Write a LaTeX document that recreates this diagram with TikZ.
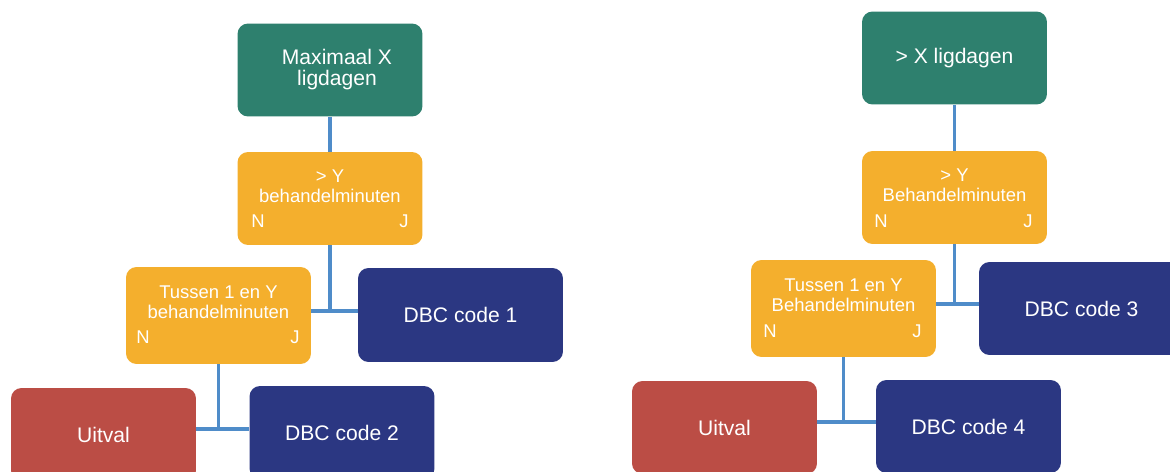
\documentclass[tikz,border=0pt]{standalone}
\usepackage{fontspec}
\setmainfont{Liberation Sans}
\usetikzlibrary{positioning}
\definecolor{DayGreen}{RGB}{46,128,110}
\definecolor{MinuteGold}{RGB}{244,175,45}
\definecolor{CodeNavy}{RGB}{43,55,130}
\definecolor{DropRed}{RGB}{187,77,69}
\definecolor{LinkBlue}{RGB}{79,140,201}

\begin{document}
\begin{tikzpicture}[x=0.02cm, y=-0.02cm,
    box/.style={rounded corners=6pt, minimum width=3.7cm, minimum height=1.86cm,
        inner sep=0pt, text=white, align=center, font=\fontsize{12}{12}\selectfont},
    daybox/.style={box, fill=DayGreen},
    minbox/.style={box, fill=MinuteGold},
    codebox/.style={box, fill=CodeNavy},
    dropbox/.style={box, fill=DropRed},
    mintext/.style={text=white, align=center, inner sep=0pt, font=\fontsize{10.5}{11.3}\selectfont},
    yesno/.style={text=white, inner sep=0pt, font=\fontsize{10.5}{12}\selectfont},
    conn/.style={LinkBlue, line width=1.9pt}]
    \useasboundingbox (0,0) rectangle (1170,472);
    \clip (0,0) rectangle (1170,472);

    % Maximaal X ligdagen
    \begin{scope}
        \node[daybox] (dayA) at (330,70) {};
        \node[text=white, align=center, inner sep=0pt, font=\fontsize{12}{12}\selectfont]
            (dayAt) at (337,70) {Maximaal X\\ligdagen};
        \node[minbox] (minA) at (330,198.5) {};
        \node[mintext] (minAt) at (330,186) {> Y\\behandelminuten};
        \node[yesno] (minAn) at (258,221) {N};
        \node[yesno] (minAj) at (404,221) {J};
        \node[minbox, minimum height=1.94cm] (betA) at (218.5,315.5) {};
        \node[mintext] (betAt) at (218.5,302) {Tussen 1 en Y\\behandelminuten};
        \node[yesno] (betAn) at (143,337) {N};
        \node[yesno] (betAj) at (295,337) {J};
        \node[codebox, minimum width=4.1cm, minimum height=1.88cm] (codeA) at (460.5,315) {DBC code 1};
        \node[dropbox] (dropA) at (103.5,434.5) {Uitval};
        \node[codebox] (codeB) at (342,432.5) {DBC code 2};
        \coordinate (jA) at (330,311);
        \coordinate (jB) at (218.5,429);
        \draw[conn] (dayA.south) -- (minA.north);
        \draw[conn] (minA.south) -- (jA);
        \draw[conn] (betA.east |- jA) -- (codeA.west |- jA);
        \draw[conn] (betA.south) -- (jB);
        \draw[conn] (dropA.east |- jB) -- (codeB.west |- jB);
    \end{scope}

    % > X ligdagen
    \begin{scope}
        \node[daybox] (dayB) at (954.5,58) {> X ligdagen};
        \node[minbox] (minB) at (954.5,197.5) {};
        \node[mintext] (minBt) at (954.5,185) {> Y\\Behandelminuten};
        \node[yesno] (minBn) at (881,221) {N};
        \node[yesno] (minBj) at (1028,221) {J};
        \node[minbox, minimum height=1.94cm] (betB) at (843.5,308.5) {};
        \node[mintext] (betBt) at (843.5,295) {Tussen 1 en Y\\Behandelminuten};
        \node[yesno] (betBn) at (770,331) {N};
        \node[yesno] (betBj) at (917,331) {J};
        \node[codebox, minimum width=4.1cm] (codeC) at (1081.5,308.5) {DBC code 3};
        \node[dropbox] (dropB) at (724.5,427.5) {Uitval};
        \node[codebox] (codeD) at (968.5,426.5) {DBC code 4};
        \coordinate (jC) at (954.5,304);
        \coordinate (jD) at (843.5,422);
        \draw[conn] (dayB.south) -- (minB.north);
        \draw[conn] (minB.south) -- (jC);
        \draw[conn] (betB.east |- jC) -- (codeC.west |- jC);
        \draw[conn] (betB.south) -- (jD);
        \draw[conn] (dropB.east |- jD) -- (codeD.west |- jD);
    \end{scope}
\end{tikzpicture}
\end{document}
